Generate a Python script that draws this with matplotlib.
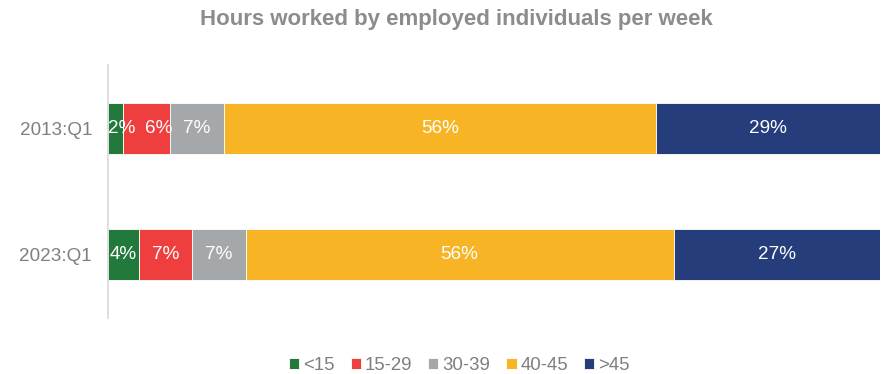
import matplotlib
matplotlib.use("Agg")
import matplotlib.pyplot as plt
import numpy as np

plt.rcParams['font.family'] = ['Liberation Sans', 'DejaVu Sans']

periods = ["2013:Q1", "2023:Q1"]
bands = ["<15", "15-29", "30-39", "40-45", ">45"]
shares = {
    "<15":   [2, 4],
    "15-29": [6, 7],
    "30-39": [7, 7],
    "40-45": [56, 56],
    ">45":   [29, 27],
}
colors = ["#217A3C", "#EF3E3E", "#A5A8AA", "#F7B525", "#253D7A"]

W, H = 884, 374
fig = plt.figure(figsize=(W / 100, H / 100), dpi=100)
ax = fig.add_axes([108 / W, 1 - 318 / H, 772 / W, 253 / H])

vals = np.array([shares[b] for b in bands], dtype=float)
totals = vals.sum(axis=0)
norm = vals / totals * 100
y = np.arange(len(periods))
ax.set_xlim(0, 100)
ax.set_ylim(1.5, -0.5)

px_per_unit = 772 / 100
lab_fs = 13.6
fig.canvas.draw()
renderer = fig.canvas.get_renderer()

# stacked segments with value labels; narrow segments push labels rightwards
left = np.zeros(len(periods))
prev_right = [-1e9] * len(periods)
gap = 10 / px_per_unit
for i, b in enumerate(bands):
    ax.barh(y, norm[i], left=left, height=0.4, color=colors[i],
            edgecolor="white", linewidth=0.6, label=b)
    for j in range(len(periods)):
        t = ax.text(0, y[j], f"{int(vals[i][j])}%", ha="center", va="center",
                    color="white", fontsize=lab_fs)
        half = t.get_window_extent(renderer).width / 2 / px_per_unit
        x = max(left[j] + norm[i][j] / 2, half, prev_right[j] + gap + half)
        t.set_x(x)
        prev_right[j] = x + half
    left += norm[i]

ax.set_yticks(y)
ax.set_yticklabels(periods, fontsize=13.6, color="#7F7F7F")
ax.tick_params(axis="y", length=0, pad=11.5)
ax.set_xticks([])
for s in ["top", "right", "bottom"]:
    ax.spines[s].set_visible(False)
ax.spines["left"].set_color("#D9D9D9")
ax.spines["left"].set_linewidth(1.2)

fig.text(456.5 / W, 1 - 20 / H, "Hours worked by employed individuals per week",
         ha="center", va="center", fontsize=16, fontweight="bold", color="#8C8C8C")

fig.legend(loc="center", bbox_to_anchor=(459.5 / W, 1 - 366 / H), ncol=5,
           frameon=False, fontsize=13.4, handlelength=0.54, handleheight=0.54,
           handletextpad=0.22, columnspacing=0.86, labelcolor="#7F7F7F")

fig.savefig("out.png", dpi=100)
